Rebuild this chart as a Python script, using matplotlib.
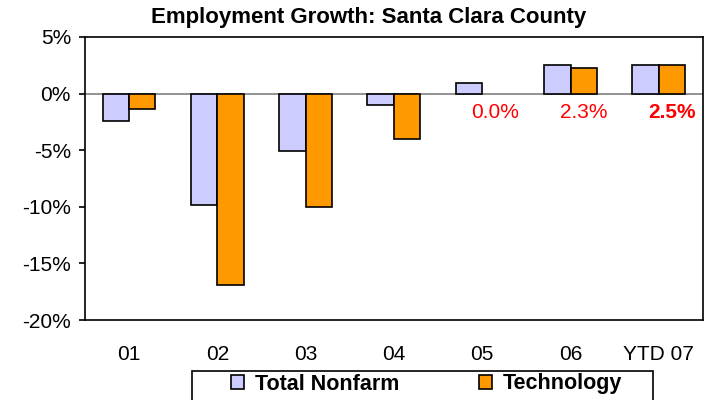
import matplotlib
matplotlib.use("Agg")
import matplotlib.pyplot as plt
from matplotlib.patches import Rectangle
import numpy as np

categories = ["01", "02", "03", "04", "05", "06", "YTD 07"]
total_nonfarm = [-2.4, -9.8, -5.1, -1.0, 0.9, 2.5, 2.5]
technology = [-1.4, -16.9, -10.0, -4.0, 0.0, 2.3, 2.5]
tech_labels = ["", "", "", "", "0.0%", "2.3%", "2.5%"]
label_bold = [False, False, False, False, False, False, True]

plt.rcParams['font.family'] = ['Liberation Sans', 'DejaVu Sans']

fig = plt.figure(figsize=(7.13, 4.0), dpi=100)
ax = fig.add_axes([0.119, 0.2, 0.867, 0.7075])

x = np.arange(len(categories))
w = 0.3
b1 = ax.bar(x - w/2, total_nonfarm, w, color="#CCCCFF", edgecolor="black", linewidth=1.2, label="Total Nonfarm", zorder=3)
b2 = ax.bar(x + w/2, technology, w, color="#FF9900", edgecolor="black", linewidth=1.2, label="Technology", zorder=3)
for patch, v in zip(b2.patches, technology):
    if v == 0:
        patch.set_visible(False)

ax.axhline(0, color="#808080", linewidth=1.2, zorder=2)

for xi, lab, bold in zip(x, tech_labels, label_bold):
    if lab:
        ax.text(xi + w/2, -1.7, lab, color="#FF0000", fontsize=15,
                fontweight="bold" if bold else "normal", ha="center", va="center", zorder=4)

ax.set_xlim(-0.5, len(categories) - 0.5)
ax.set_ylim(-20, 5)
ax.set_yticks([5, 0, -5, -10, -15, -20])
ax.set_yticklabels(["5%", "0%", "-5%", "-10%", "-15%", "-20%"])
ax.set_xticks(x)
ax.set_xticklabels(categories)
ax.tick_params(axis="x", length=0, pad=18, labelsize=15)
ax.tick_params(axis="y", length=4, width=1.2, direction="out", pad=6, labelsize=15)
for s in ax.spines.values():
    s.set_linewidth(1.2)
    s.set_color("black")

fig.text(0.517, 0.955, "Employment Growth: Santa Clara County", fontsize=16, fontweight="bold",
         ha="center", va="center")

# legend frame (extends past bottom edge, as in the reference)
fig.patches.append(Rectangle((0.2693, -0.05), 0.6465, 0.1225, transform=fig.transFigure,
                             facecolor="white", edgecolor="black", linewidth=1.2, zorder=0))

leg = fig.legend(handles=[b1, b2], loc="center", bbox_to_anchor=(0.598, 0.04), ncol=2,
                 frameon=False, handlelength=0.6, handleheight=0.6, handletextpad=0.5,
                 columnspacing=3.7, borderpad=0.0, borderaxespad=0,
                 prop={"weight": "bold", "size": 15.5})

fig.savefig("out.png", dpi=100)
